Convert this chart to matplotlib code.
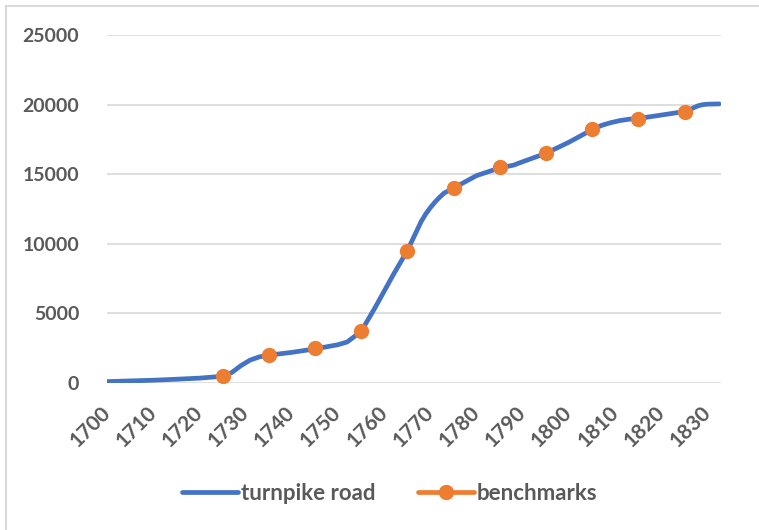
import matplotlib.pyplot as plt

# turnpike road mileage, read at irregular years along the curve
road_years = [1700, 1705, 1710, 1715, 1720, 1725, 1727, 1729, 1731, 1733,
              1735, 1740, 1745, 1750, 1752, 1755, 1758, 1762, 1765, 1768,
              1769, 1770, 1771, 1772, 1773, 1775, 1780, 1785, 1788, 1790,
              1795, 1800, 1805, 1807, 1809, 1811, 1813, 1815, 1820, 1825,
              1826, 1827, 1828, 1829, 1830, 1832.5]
road_miles = [100, 150, 200, 270, 350, 480, 750, 1250, 1650, 1880,
              2000, 2200, 2450, 2750, 2950, 3700, 5400, 7800, 9500, 11600,
              12150, 12600, 13000, 13350, 13650, 14000, 14900, 15450, 15650, 15900,
              16500, 17300, 18200, 18500, 18700, 18850, 18950, 19000, 19250, 19500,
              19600, 19780, 19920, 20000, 20030, 20050]

bench_years = [1725, 1735, 1745, 1755, 1765, 1775, 1785, 1795, 1805, 1815, 1825]
bench_miles = [500, 2000, 2500, 3750, 9500, 14000, 15500, 16500, 18250, 19000, 19500]

tick_years = list(range(1700, 1831, 10))
y_ticks = [0, 5000, 10000, 15000, 20000, 25000]

BLUE = "#4472C4"
ORANGE = "#ED7D31"
GREY_TEXT = "#595959"
GRID = "#D9D9D9"

plt.rcParams["font.family"] = ["Lato", "DejaVu Sans"]
plt.rcParams["font.weight"] = "bold"

fig = plt.figure(figsize=(7.59, 5.30), dpi=100)
ax = fig.add_axes([107 / 759, 1 - 383 / 530, 614 / 759, 348 / 530])

ax.plot(road_years, road_miles, color=BLUE, linewidth=3.4,
        solid_capstyle="round", solid_joinstyle="round",
        label="turnpike road", zorder=3)
ax.plot(bench_years, bench_miles, color=ORANGE, linewidth=3.4,
        linestyle="none", marker="o", markersize=10,
        label="benchmarks", zorder=4)

ax.set_xlim(1700, 1832.9)
ax.set_ylim(0, 25000)
ax.set_xticks(tick_years)
ax.set_yticks(y_ticks)
ax.set_xticklabels([str(y) for y in tick_years], rotation=45,
                   ha="right", va="center", rotation_mode="anchor")
ax.tick_params(axis="both", length=0, labelsize=14, labelcolor=GREY_TEXT)
ax.tick_params(axis="x", pad=19, labelsize=15)
ax.tick_params(axis="y", pad=20)

ax.grid(True, axis="y", color=GRID, linewidth=1.2)
ax.set_axisbelow(True)
for side in ax.spines.values():
    side.set_visible(False)

# legend handle for benchmarks shows the line with a dot in the middle
bench_handle = plt.Line2D([], [], color=ORANGE, linewidth=3.4, marker="o",
                          markersize=10, solid_capstyle="round")
road_handle = plt.Line2D([], [], color=BLUE, linewidth=3.4,
                         solid_capstyle="round")
leg = fig.legend([road_handle, bench_handle], ["turnpike road", "benchmarks"],
                 loc="center", bbox_to_anchor=(390 / 759, 1 - 493 / 530),
                 ncol=2, frameon=False, fontsize=16, handlelength=2.5,
                 handletextpad=0.15, columnspacing=1.9, labelcolor=GREY_TEXT)

# chart area border, only left and top edges fall inside the image
fig.add_artist(plt.Line2D([5.5 / 759, 5.5 / 759], [0, 1 - 5.5 / 530],
                          transform=fig.transFigure, color=GRID, linewidth=1.5))
fig.add_artist(plt.Line2D([5.5 / 759, 1], [1 - 5.5 / 530, 1 - 5.5 / 530],
                          transform=fig.transFigure, color=GRID, linewidth=1.5))

fig.savefig("out.png", dpi=100)
